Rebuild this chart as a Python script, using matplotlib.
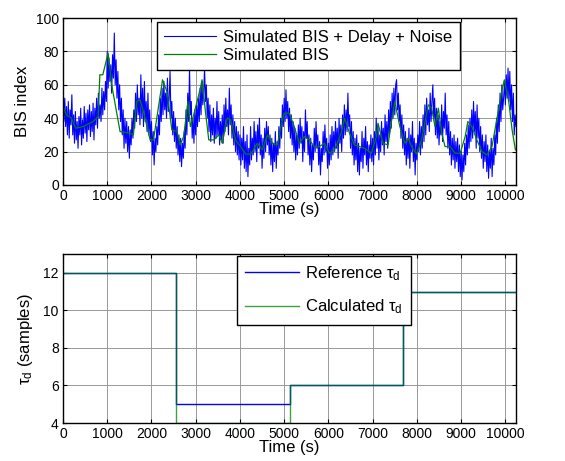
import numpy as np
import matplotlib
matplotlib.use("Agg")
import matplotlib.pyplot as plt

plt.rcParams['font.family'] = ['Liberation Sans', 'DejaVu Sans']
plt.rcParams['mathtext.fontset'] = 'custom'
plt.rcParams['mathtext.rm'] = 'Liberation Sans'
plt.rcParams['mathtext.it'] = 'Liberation Sans'

# ---------------- Data: top panel ----------------
# Simulated BIS (green), read at key points
bis_t = [0, 76, 190, 288, 455, 680, 795, 833, 900, 1020, 1100, 1290, 1515, 1590, 1667, 1740,
         1818, 1970, 2045, 2120, 2250, 2350, 2460, 2575, 2650, 2727, 2825, 2880, 2955, 3106,
         3144, 3220, 3295, 3410, 3523, 3600, 3712, 3788, 3900, 4015, 4129, 4242, 4394, 4508,
         4621, 4735, 4848, 4924, 5000, 5114, 5227, 5341, 5455, 5568, 5682, 5795, 5909, 6023,
         6136, 6288, 6364, 6477, 6590, 6705, 6818, 6970, 7083, 7121, 7235, 7348, 7424, 7500,
         7614, 7727, 7803, 7879, 7992, 8106, 8258, 8333, 8409, 8485, 8561, 8636, 8750, 8864,
         8977, 9091, 9152, 9242, 9356, 9470, 9583, 9697, 9811, 9924, 9977, 10076, 10152, 10227]
bis_v = [47, 42, 40, 34, 35, 38, 41, 66, 66, 79, 60, 32, 31, 30, 50, 51,
         44, 27, 27, 40, 63, 56, 33, 32, 24, 29, 50, 35, 42, 58,
         63, 44, 27, 27, 30, 25, 40, 39, 27, 23, 18.5, 18.5, 25, 21,
         30, 25, 24, 35, 43, 43, 35, 25, 29, 27, 23, 23, 25, 19,
         21, 31, 40, 31, 24, 23, 22, 19, 29, 37, 25, 24, 38, 50,
         35, 25, 28, 23, 18.5, 27, 48, 46, 35, 46, 31, 23, 23, 19,
         19, 29, 38, 35, 27, 20, 18, 23, 40, 57, 63, 50, 33, 21]

# Simulated BIS + Delay + Noise (blue), one value every 20 s
noisy_dt = 20
noisy_v = [
    58, 38, 52, 35, 47, 30, 50, 28, 45, 36, 54, 30, 42, 25, 44, 27, 38, 22, 41, 30,
    46, 24, 39, 28, 47, 31, 43, 26, 45, 33, 48, 29, 44, 32, 49, 27, 46, 36, 52, 34,
    55, 40, 48, 38, 58, 42, 56, 45, 62, 50,
    80, 58, 76, 62, 72, 55, 78, 64, 91, 60, 75, 52, 68, 45, 60, 38, 52, 30, 45, 22,
    40, 25, 38, 20, 35, 16, 33, 24, 40, 28, 45, 34, 55, 38, 60, 42, 52, 36, 66, 40,
    58, 35, 62, 38, 50, 32, 55, 30, 45, 26,
    38, 18, 32, 12, 28, 20, 35, 24, 42, 30, 52, 38, 58, 42, 62, 45, 55, 40, 64, 44,
    52, 68, 40, 50, 30, 44, 26, 40, 22, 35, 18, 30, 14, 28, 11, 25, 16, 32, 22, 45,
    30, 55, 38, 70, 42, 50, 28, 40, 25, 45,
    30, 48, 35, 52, 38, 58, 42, 62, 48, 55, 70, 50, 60, 40, 52, 32, 48, 26, 42, 30,
    46, 25, 40, 28, 50, 30, 44, 24, 38, 27, 42, 25, 48, 32, 52, 35, 45, 30, 58, 36,
    48, 28, 42, 24, 38, 20, 35, 18, 32, 15,
    30, 12, 28, 15, 35, 10, 26, 8, 30, 5, 22, 12, 35, 15, 28, 18, 38, 20, 32, 14,
    36, 22, 40, 18, 30, 10, 28, 16, 34, 20, 38, 24, 35, 18, 30, 12, 28, 8, 25, 14,
    32, 10, 26, 18, 35, 22, 40, 28, 48, 35,
    52, 38, 57, 40, 50, 32, 46, 28, 42, 24, 38, 20, 34, 15, 30, 18, 36, 22, 40, 25,
    35, 14, 32, 20, 45, 28, 38, 18, 30, 12, 28, 8, 24, 15, 34, 20, 38, 22, 30, 12,
    26, 6, 22, 14, 32, 18, 36, 20, 28, 10,
    25, 12, 30, 15, 35, 18, 32, 20, 38, 22, 34, 16, 40, 25, 36, 20, 42, 28, 48, 30,
    45, 32, 55, 35, 42, 22, 38, 18, 32, 12, 28, 15, 30, 8, 25, 6, 22, 14, 32, 10,
    28, 18, 35, 12, 26, 8, 24, 16, 30, 14,
    28, 12, 32, 18, 40, 22, 36, 15, 30, 20, 38, 24, 34, 18, 42, 26, 38, 22, 45, 30,
    50, 34, 55, 40, 58, 42, 60, 63, 45, 55, 38, 48, 28, 42, 22, 36, 18, 32, 12, 28,
    16, 34, 10, 30, 20, 38, 14, 28, 6, 25,
    15, 30, 20, 38, 18, 35, 22, 42, 26, 48, 30, 52, 36, 45, 32, 55, 38, 50, 60, 40,
    52, 30, 46, 28, 42, 24, 38, 30, 48, 26, 44, 34, 55, 30, 42, 22, 38, 18, 32, 12,
    28, 15, 30, 10, 26, 14, 28, 8, 24, 5,
    20, 3, 18, 8, 25, 12, 30, 18, 36, 22, 40, 26, 45, 28, 50, 32, 44, 22, 48, 28,
    40, 20, 35, 16, 30, 10, 26, 14, 30, 8, 24, 4, 20, 10, 28, 5, 22, 12, 30, 18,
    40, 25, 48, 32, 55, 38, 60, 45, 52, 62,
    48, 66, 52, 70, 50, 68, 45, 60, 38, 55, 30, 42, 35]

top_xticks = [0, 1000, 2000, 3000, 4000, 5000, 6000, 7000, 8000, 9000, 10000]
top_yticks = [0, 20, 40, 60, 80, 100]

# ---------------- Data: bottom panel ----------------
step_t = [0, 2560, 5120, 7680, 10240]
tau_ref = [12, 5, 6, 11, 11]
tau_calc = [12, 4, 6, 11, 11]
bot_yticks = [4, 6, 8, 10, 12]

BLUE = (0, 0, 1)
GREEN = (0, 0.5, 0)

fig = plt.figure(figsize=(5.65, 4.61), dpi=100)
ax1 = fig.add_axes([63/565, 1-185/461, 453/565, 167/461])
ax2 = fig.add_axes([63/565, 1-423/461, 453/565, 169/461])


def style(ax):
    ax.grid(True, color='0.6', linewidth=0.7, linestyle='-')
    ax.set_axisbelow(True)
    ax.tick_params(direction='in', top=True, right=True, length=3, labelsize=10,
                   width=0.8, colors='black', pad=3)
    for s in ax.spines.values():
        s.set_linewidth(1.0)
        s.set_color('black')


noisy_t = np.arange(len(noisy_v)) * noisy_dt
ax1.plot(noisy_t, noisy_v, color=BLUE, lw=0.8, label='Simulated BIS + Delay + Noise')
ax1.plot(bis_t, bis_v, color=GREEN, lw=0.9, label='Simulated BIS')
ax1.set_xlim(0, 10240)
ax1.set_ylim(0, 100)
ax1.set_xticks(top_xticks)
ax1.set_yticks(top_yticks)
ax1.set_xlabel('Time (s)', fontsize=12, labelpad=-1)
ax1.set_ylabel('BIS index', fontsize=12, labelpad=4)
style(ax1)
leg1 = ax1.legend(loc='upper left', bbox_to_anchor=(0.207, 0.976), fontsize=12,
                  frameon=True, fancybox=False, edgecolor='black', framealpha=1,
                  handlelength=3.1, labelspacing=0.2, borderpad=0.45,
                  handletextpad=0.45, borderaxespad=0)
leg1.get_frame().set_linewidth(1.0)

lab_ref = r'Reference $\tau_{\mathrm{d}}$'
lab_calc = r'Calculated $\tau_{\mathrm{d}}$'
ax2.step(step_t, tau_ref, where='post', color=BLUE, lw=1.0, label=lab_ref)
ax2.step(step_t, tau_calc, where='post', color=GREEN, lw=1.0, alpha=0.75, label=lab_calc)
ax2.set_xlim(0, 10240)
ax2.set_ylim(4, 13)
ax2.set_xticks(top_xticks)
ax2.set_yticks(bot_yticks)
ax2.set_xlabel('Time (s)', fontsize=12, labelpad=-1)
ax2.set_ylabel(r'$\tau_{\mathrm{d}}$ (samples)', fontsize=12, labelpad=6)
style(ax2)
leg2 = ax2.legend(loc='upper left', bbox_to_anchor=(0.384, 0.99), fontsize=12,
                  frameon=True, fancybox=False, edgecolor='black', framealpha=1,
                  handlelength=3.2, labelspacing=0.9, borderpad=0.5,
                  handletextpad=0.4, borderaxespad=0)
leg2.get_frame().set_linewidth(1.0)

fig.savefig('out.png', dpi=100)
